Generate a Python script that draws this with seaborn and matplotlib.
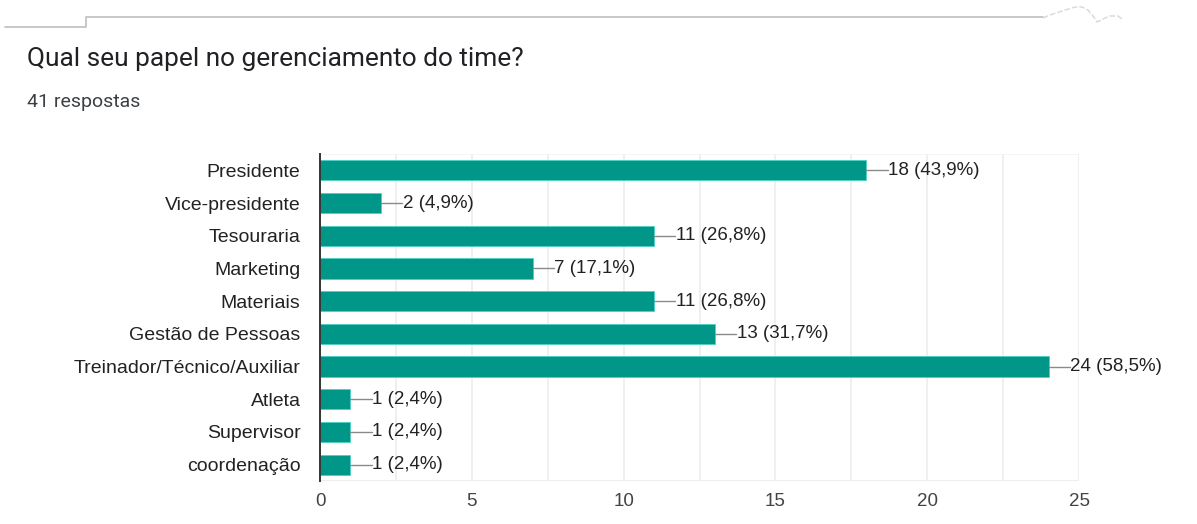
import matplotlib
matplotlib.use("Agg")
import matplotlib.pyplot as plt
from matplotlib.lines import Line2D
import numpy as np
import pandas as pd
import seaborn as sns

# Survey answers
papeis = ["Presidente", "Vice-presidente", "Tesouraria", "Marketing", "Materiais",
          "Gestão de Pessoas", "Treinador/Técnico/Auxiliar", "Atleta", "Supervisor",
          "coordenação"]
contagens = [18, 2, 11, 7, 11, 13, 24, 1, 1, 1]
total_respostas = 41
x_ticks = [0, 5, 10, 15, 20, 25]

titulo = "Qual seu papel no gerenciamento do time?"
subtitulo = f"{total_respostas} respostas"

df = pd.DataFrame({"papel": papeis, "n": contagens})

sns.set_theme(style="white")
plt.rcParams["font.family"] = ["Liberation Sans", "DejaVu Sans"]

W, H = 1197, 524
fig = plt.figure(figsize=(W / 100, H / 100), dpi=100)
ax = fig.add_axes([320 / W, 1 - 481 / H, (1079 - 320) / W, (481 - 154) / H])

bar_color = "#009688"
sns.barplot(data=df, x="n", y="papel", orient="h", color=bar_color,
            saturation=1, width=0.62, ax=ax, zorder=3)
for p in ax.patches:
    p.set_edgecolor("#4dd0c4")
    p.set_linewidth(0.6)

ax.set_xlim(0, 25)
ax.set_ylim(len(papeis) - 0.5, -0.5)

# Gridlines every 2.5
for g in np.arange(2.5, 25.01, 2.5):
    ax.axvline(g, color="#ececec", lw=1.2, zorder=1)
ax.axhline(-0.5, color="#f2f2f2", lw=1.2, zorder=1)
ax.axhline(len(papeis) - 0.5, color="#ececec", lw=2, zorder=1)

for s in ["top", "right", "bottom"]:
    ax.spines[s].set_visible(False)
ax.spines["left"].set_color("#333333")
ax.spines["left"].set_linewidth(1.4)
ax.spines["left"].set_zorder(5)

ax.set_xticks(x_ticks)
ax.set_xticklabels([str(t) for t in x_ticks], fontsize=13.5, color="#444444")
ax.tick_params(axis="x", length=0, pad=9)
ax.tick_params(axis="y", length=0, pad=14, labelsize=14, labelcolor="#222222")
ax.set_xlabel("")
ax.set_ylabel("")

# Value labels with leader lines
lead = 0.7
for i, v in enumerate(contagens):
    pct = f"{100 * v / total_respostas:.1f}".replace(".", ",")
    ax.plot([v, v + lead], [i, i], color="#8a8a8a", lw=1, zorder=4, clip_on=False)
    ax.text(v + lead + 0.02, i, f"{v} ({pct}%)", va="center", ha="left",
            fontsize=13.5, color="#222222", clip_on=False)

# Title block
fig.text(27 / W, 1 - 59 / H, titulo, fontsize=18.9, color="#202124",
         family=["Roboto", "DejaVu Sans"], va="center", ha="left")
fig.text(27 / W, 1 - 102 / H, subtitulo, fontsize=14, color="#3c4043",
         family=["Roboto", "DejaVu Sans"], va="center", ha="left")

# Torn card edge along the top
def px(xs, ys):
    return [x / W for x in xs], [1 - y / H for y in ys]

edge_color = "#c4c4c4"
xs, ys = px([5, 86, 86, 1043], [27, 27, 17, 17])
fig.add_artist(Line2D(xs, ys, color=edge_color, lw=1.3))
tx = [1043, 1050, 1062, 1075, 1082, 1088, 1093, 1097, 1103, 1110, 1118, 1122]
ty = [18, 15, 11, 7, 7, 10, 16, 22, 19, 16, 16, 19]
xs, ys = px(tx, ty)
fig.add_artist(Line2D(xs, ys, color="#d8d8d8", lw=1.0, ls=(0, (4, 1.5))))

fig.savefig("out.png", dpi=100, facecolor="white")
